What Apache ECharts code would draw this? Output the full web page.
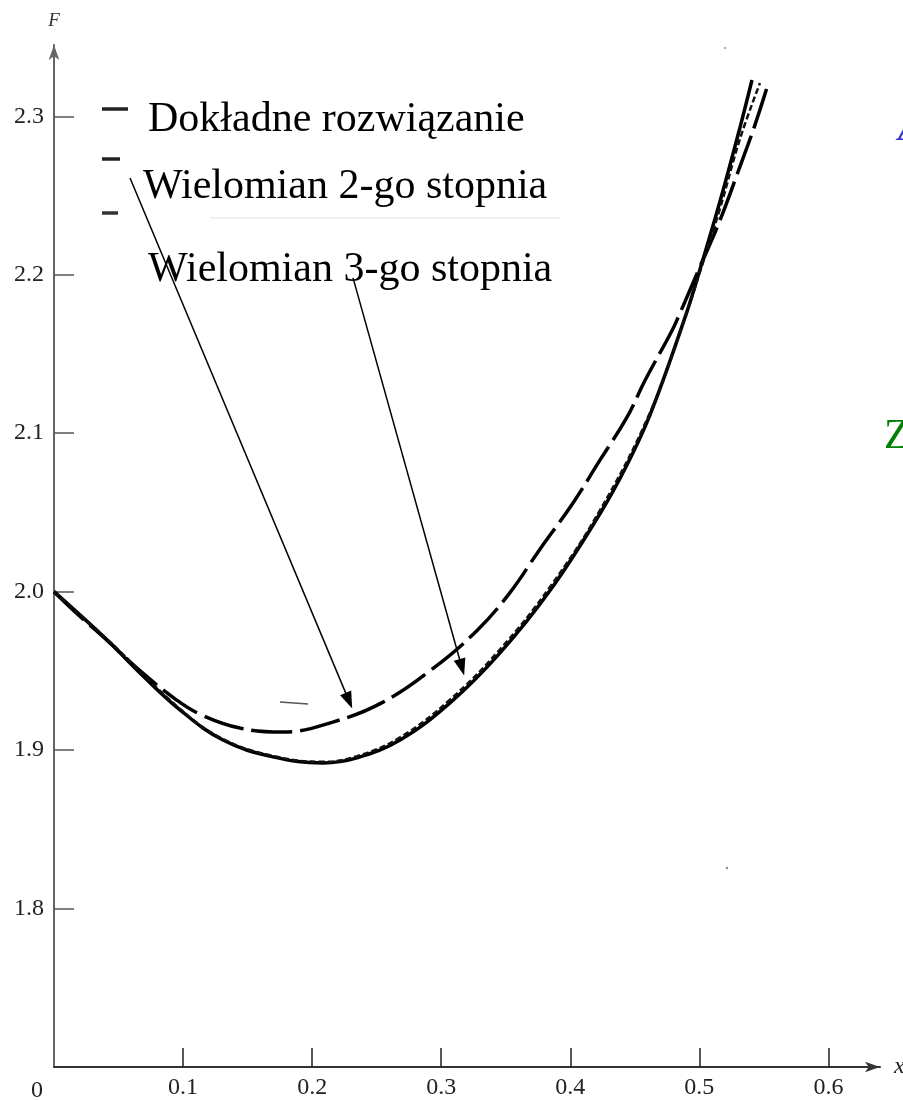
<!DOCTYPE html>
<html>
<head>
<meta charset="utf-8">
<script src="https://cdn.jsdelivr.net/npm/echarts@6/dist/echarts.min.js"></script>
<style>
html,body{margin:0;padding:0;background:#fff;overflow:hidden;}
#chart{width:903px;height:1101px;}
</style>
</head>
<body>
<div id="chart"></div>
<script>
// ---- data ----
const xTickValues = [0.1, 0.2, 0.3, 0.4, 0.5, 0.6];
const yTickValues = [1.8, 1.9, 2.0, 2.1, 2.2, 2.3];

const seriesNames = ['Dokładne rozwiązanie', 'Wielomian 2-go stopnia', 'Wielomian 3-go stopnia'];

const xExact = [0, 0.0411, 0.0666, 0.0976, 0.1309, 0.1697, 0.2084, 0.2348, 0.2681, 0.3068, 0.3456, 0.3843, 0.4231, 0.4425, 0.4618, 0.4890, 0.5006, 0.5161, 0.5316, 0.5408];
const yExact = [2.000, 1.9695, 1.9487, 1.9254, 1.9064, 1.8957, 1.8919, 1.8951, 1.9064, 1.9298, 1.9614, 2.0007, 2.0493, 2.0777, 2.1116, 2.1733, 2.2036, 2.2465, 2.2932, 2.3229];

const xPoly2 = [0, 0.020, 0.041, 0.067, 0.094, 0.113, 0.144, 0.177, 0.216, 0.255, 0.294, 0.328, 0.353, 0.376, 0.402, 0.423, 0.444, 0.458, 0.479, 0.485, 0.500, 0.516, 0.531, 0.543, 0.553];
const yPoly2 = [2.000, 1.9845, 1.9694, 1.9498, 1.9322, 1.9227, 1.9139, 1.9114, 1.9177, 1.9303, 1.9517, 1.9757, 1.9991, 2.0262, 2.0558, 2.0830, 2.1101, 2.1334, 2.1650, 2.1757, 2.2041, 2.2344, 2.2672, 2.2943, 2.3196];

const xPoly3 = [0, 0.0411, 0.0976, 0.1309, 0.1697, 0.2084, 0.2348, 0.2681, 0.3068, 0.3456, 0.3843, 0.4231, 0.4618, 0.4890, 0.5006, 0.5161, 0.5316, 0.5470];
const yPoly3 = [2.000, 1.9700, 1.9260, 1.9070, 1.8963, 1.8926, 1.8962, 1.9080, 1.9318, 1.9636, 2.0030, 2.0515, 2.1130, 2.1730, 2.2020, 2.2420, 2.2860, 2.3210];

// annotation arrows (data coordinates): from label to curve
const arrowFrom = [[0.0589, 2.2611], [0.2317, 2.1980]];
const arrowTo   = [[0.2285, 1.9312], [0.3160, 1.9523]];

// ---- build ----
const zip = (xs, ys) => xs.map((x, i) => [x, ys[i]]);
const serif = '"Liberation Serif", "Times New Roman", serif';

const chart = echarts.init(document.getElementById('chart'));
chart.setOption({
  animation: false,
  backgroundColor: '#ffffff',
  grid: { left: 54, right: 23, top: 45, bottom: 34, containLabel: false, outerBoundsMode: 'none' },
  xAxis: {
    type: 'value', min: 0, max: 0.64,
    name: 'x', nameLocation: 'end', nameGap: 14,
    nameTextStyle: { fontFamily: serif, fontStyle: 'italic', fontSize: 24, color: '#222', verticalAlign: 'middle' },
    axisLine: { show: true, onZero: false, symbol: ['none', 'arrow'], symbolSize: [8, 15], lineStyle: { color: '#333', width: 2 } },
    axisTick: { show: true, inside: true, length: 19, customValues: xTickValues, lineStyle: { color: '#222', width: 1.5 } },
    axisLabel: { show: true, customValues: xTickValues, margin: 9, fontFamily: serif, fontSize: 24, color: '#222', formatter: v => v.toFixed(1) },
    splitLine: { show: false }
  },
  yAxis: {
    type: 'value', min: 1.7, max: 2.345,
    name: 'F', nameLocation: 'end', nameGap: 15,
    nameTextStyle: { fontFamily: serif, fontStyle: 'italic', fontSize: 19, color: '#333', align: 'center' },
    axisLine: { show: true, onZero: false, symbol: ['none', 'arrow'], symbolSize: [8, 15], lineStyle: { color: '#666', width: 2 } },
    axisTick: { show: true, inside: true, length: 20, customValues: yTickValues, lineStyle: { color: '#555', width: 1.5 } },
    axisLabel: { show: true, customValues: yTickValues, margin: 10, fontFamily: serif, fontSize: 24, color: '#222', formatter: v => v.toFixed(1) },
    splitLine: { show: false }
  },
  legend: { show: false },
  series: [
    {
      name: seriesNames[0], type: 'line', data: zip(xExact, yExact), smooth: 0.4,
      showSymbol: false, symbol: 'none', z: 3,
      lineStyle: { color: '#000', width: 3.5, type: 'solid' },
      markLine: {
        silent: true, animation: false,
        symbol: ['none', 'triangle'], symbolSize: [12, 17],
        label: { show: false },
        lineStyle: { color: '#000', width: 1.5, type: 'solid' },
        data: arrowFrom.map((p, i) => [{ coord: p }, { coord: arrowTo[i] }])
      }
    },
    {
      name: seriesNames[1], type: 'line', data: zip(xPoly2, yPoly2), smooth: 0.4,
      showSymbol: false, symbol: 'none', z: 2,
      lineStyle: { color: '#000', width: 3.5, type: [41, 8] }
    },
    {
      name: seriesNames[2], type: 'line', data: zip(xPoly3, yPoly3), smooth: 0.4,
      showSymbol: false, symbol: 'none', z: 4,
      lineStyle: { color: '#111', width: 2.5, type: [6, 3] }
    }
  ],
  graphic: [
    // legend markers
    { type: 'line', shape: { x1: 102, y1: 109, x2: 128, y2: 109 }, style: { stroke: '#222', lineWidth: 3.5 } },
    { type: 'line', shape: { x1: 102, y1: 159, x2: 120, y2: 159 }, style: { stroke: '#222', lineWidth: 3.5 } },
    { type: 'line', shape: { x1: 102, y1: 213, x2: 118, y2: 213 }, style: { stroke: '#333', lineWidth: 3.5 } },
    // legend texts
    { type: 'text', x: 148, y: 120, style: { text: seriesNames[0], font: '42px ' + serif, fill: '#000', textVerticalAlign: 'middle', textAlign: 'left' } },
    { type: 'text', x: 143, y: 187, style: { text: seriesNames[1], font: '42px ' + serif, fill: '#000', textVerticalAlign: 'middle', textAlign: 'left' } },
    { type: 'text', x: 148, y: 270, style: { text: seriesNames[2], font: '42px ' + serif, fill: '#000', textVerticalAlign: 'middle', textAlign: 'left' } },
    // faint line under second label
    { type: 'line', shape: { x1: 210, y1: 218, x2: 560, y2: 218 }, style: { stroke: '#f0f0f0', lineWidth: 2 } },
    // origin label
    { type: 'text', x: 37, y: 1091, style: { text: '0', font: '24px ' + serif, fill: '#222', textAlign: 'center', textVerticalAlign: 'middle' } },
    // clipped slide texts at right edge
    { type: 'text', x: 884, y: 437, style: { text: 'Z', font: '42px ' + serif, fill: '#008000', textAlign: 'left', textVerticalAlign: 'middle' } },
    { type: 'text', x: 898, y: 129, style: { text: 'A', font: 'italic 42px ' + serif, fill: '#3333cc', textAlign: 'left', textVerticalAlign: 'middle' } },
    // small scan marks
    { type: 'line', shape: { x1: 280, y1: 702, x2: 308, y2: 704 }, style: { stroke: '#555', lineWidth: 1.5 } },
    { type: 'circle', shape: { cx: 725, cy: 48, r: 1.2 }, style: { fill: '#aaa' } },
    { type: 'circle', shape: { cx: 727, cy: 868, r: 1.2 }, style: { fill: '#888' } }
  ]
});
</script>
</body>
</html>
